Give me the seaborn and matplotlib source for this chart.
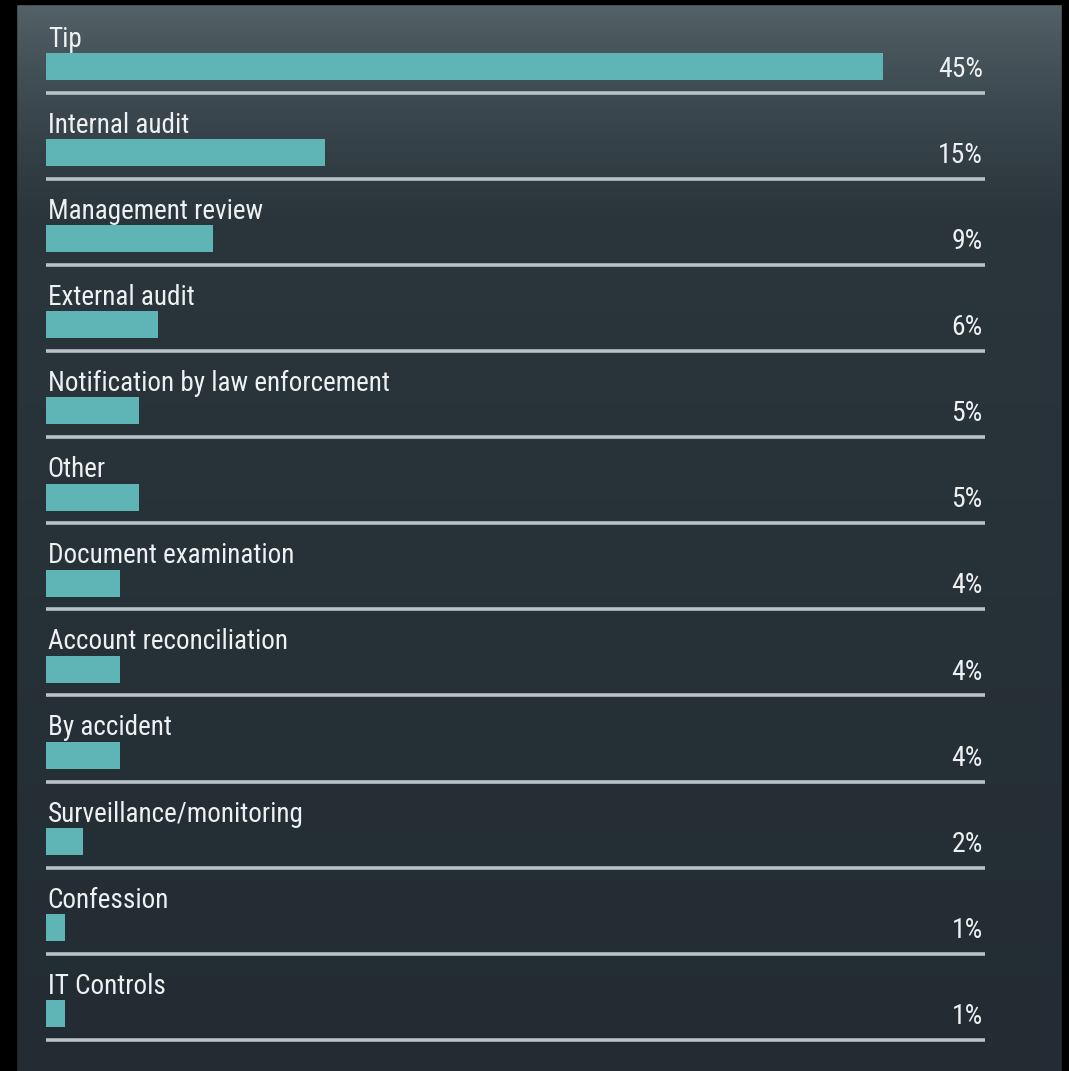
import numpy as np
import matplotlib
matplotlib.use("Agg")
import matplotlib.pyplot as plt
from matplotlib.patches import Rectangle
from matplotlib import font_manager
import seaborn as sns
import pandas as pd

categories = ["Tip", "Internal audit", "Management review", "External audit",
              "Notification by law enforcement", "Other", "Document examination",
              "Account reconciliation", "By accident", "Surveillance/monitoring",
              "Confession", "IT Controls"]
values = [45, 15, 9, 6, 5, 5, 4, 4, 4, 2, 1, 1]

BAR = "#5fb4b5"
TEXT = "#eef1f2"
SEP = "#b9c2c6"

sns.set_theme(style="white")
names = {f.name for f in font_manager.fontManager.ttflist}
fam = ['DejaVu Sans']
for cand in ['Roboto Condensed', 'Liberation Sans Narrow', 'Open Sans Condensed', 'DejaVu Sans Condensed']:
    if cand in names:
        fam = [cand, 'DejaVu Sans']
        break
plt.rcParams['font.family'] = fam
stretch = 'condensed' if fam == ['DejaVu Sans'] else 'normal'

W, H = 1069, 1071
fig = plt.figure(figsize=(W / 100, H / 100), dpi=100)

# background gradient
bg = fig.add_axes([0, 0, 1, 1], zorder=0)
ys = np.linspace(0, 1, 400)
top = np.array([0x58, 0x66, 0x6c]) / 255
mid = np.array([0x2a, 0x35, 0x3c]) / 255
bot = np.array([0x23, 0x2c, 0x33]) / 255
cols = []
for y in ys:
    if y < 0.2:
        t = (y / 0.2) ** 0.7
        c = top * (1 - t) + mid * t
    else:
        t = (y - 0.2) / 0.8
        c = mid * (1 - t) + bot * t
    cols.append(c)
grad = np.array(cols)[:, None, :]
bg.imshow(grad, aspect="auto", extent=[0, 1, 0, 1], origin="upper")
bg.set_xlim(0, 1); bg.set_ylim(0, 1)
bg.axis("off")

# black borders
for (x0, y0, w, h) in [(0, 0, 16, H), (0, 0, W, 4), (1062, 0, W - 1062, H)]:
    fig.patches.append(Rectangle((x0 / W, 1 - (y0 + h) / H), w / W, h / H,
                                 transform=fig.transFigure, color="black", zorder=1))

x_left, x_right = 46, 985
px_per_unit = 18.6
ax = fig.add_axes([x_left / W, 0, (x_right - x_left) / W, 1], zorder=2)
ax.patch.set_alpha(0)

df = pd.DataFrame({"cat": categories, "val": values})
sns.barplot(data=df, x="val", y="cat", orient="h", color=BAR, saturation=1,
            width=27 / 86.1, ax=ax, errorbar=None, linewidth=0, edgecolor=BAR)

xmax = (x_right - x_left) / px_per_unit
row0, pitch = 66.5, 86.1
ax.set_xlim(0, xmax)
ax.set_ylim((H - row0) / pitch, -row0 / pitch)

for i, (c, v) in enumerate(zip(categories, values)):
    ax.hlines(i + 0.305, 0, xmax, color=SEP, lw=2.6)
    ax.text(0.1, i - 0.23, c, ha="left", va="baseline", color=TEXT,
            fontsize=19.5, fontweight="normal", fontstretch=stretch)
    ax.text(xmax - 0.12, i + 0.12, f"{v}%", ha="right", va="baseline",
            color=TEXT, fontsize=20, fontweight="normal", fontstretch=stretch)

ax.axis("off")
fig.savefig("out.png", dpi=100)
